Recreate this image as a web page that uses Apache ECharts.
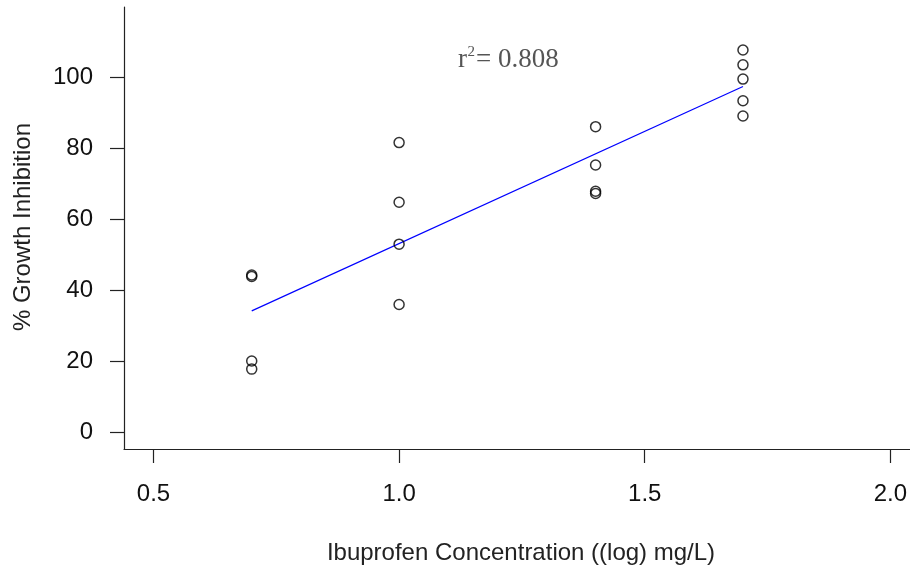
<!DOCTYPE html>
<html>
<head>
<meta charset="utf-8">
<script src="https://cdn.jsdelivr.net/npm/echarts@6/dist/echarts.min.js"></script>
<style>
  html, body { margin: 0; padding: 0; background: #fff; }
  #chart { width: 910px; height: 573px; }
</style>
</head>
<body>
<div id="chart"></div>
<script>
// ---- data ----
const concentrations = [0.7, 1.0, 1.4, 1.7];           // log mg/L
const inhibitionAt07 = [43.8, 44.2, 20.0, 17.7];
const inhibitionAt10 = [81.5, 64.7, 52.9, 35.9];
const inhibitionAt14 = [86.0, 75.2, 67.2, 67.8];
const inhibitionAt17 = [107.6, 103.4, 99.4, 93.3, 89.0];
const fitLineX = [0.7, 1.7];
const fitLineY = [34.1, 97.3];
const xTickValues = [0.5, 1.0, 1.5, 2.0];
const yTickValues = [0, 20, 40, 60, 80, 100];
const xTitle = 'Ibuprofen Concentration ((log) mg/L)';
const yTitle = '% Growth Inhibition';
const rSquaredText = '0.808';
const annotationAt = [1.12, 104.9];

// ---- build ----
const groups = [inhibitionAt07, inhibitionAt10, inhibitionAt14, inhibitionAt17];
const points = [];
groups.forEach((vals, i) => vals.forEach(v => points.push([concentrations[i], v])));
const fitLine = fitLineX.map((x, i) => [x, fitLineY[i]]);

const sansFont = '"Liberation Sans", Arial, sans-serif';
const serifFont = '"Liberation Serif", "Times New Roman", serif';
const axisColor = '#222';
const textColor = '#111';

const chart = echarts.init(document.getElementById('chart'), null, { renderer: 'canvas' });

const axisCommon = {
  type: 'value',
  splitLine: { show: false },
  axisLine: { show: true, onZero: false, lineStyle: { color: axisColor, width: 1.2 } },
  axisTick: { show: true, length: 14, lineStyle: { color: axisColor, width: 1.2 } },
};

chart.setOption({
  animation: false,
  backgroundColor: '#fff',
  grid: { left: 124, right: 0, top: 7, bottom: 124, containLabel: false, outerBoundsMode: 'none' },
  xAxis: Object.assign({}, axisCommon, {
    min: 0.44, max: 2.04,
    axisTick: Object.assign({}, axisCommon.axisTick, { customValues: xTickValues }),
    axisLabel: {
      customValues: xTickValues,
      formatter: v => v.toFixed(1),
      margin: 33, fontSize: 24, color: textColor, fontFamily: sansFont
    }
  }),
  yAxis: Object.assign({}, axisCommon, {
    min: -4.8, max: 119.7,
    axisTick: Object.assign({}, axisCommon.axisTick, { customValues: yTickValues }),
    axisLabel: {
      customValues: yTickValues,
      formatter: v => String(v),
      margin: 31, fontSize: 24, color: textColor, fontFamily: sansFont
    }
  }),
  series: [
    {
      type: 'line',
      data: fitLine,
      symbol: 'none',
      lineStyle: { color: '#0000ff', width: 1.2 },
      z: 2
    },
    {
      type: 'scatter',
      data: points,
      symbol: 'circle',
      symbolSize: 10,
      itemStyle: { color: 'rgba(0,0,0,0)', borderColor: '#000', borderWidth: 1.5 },
      z: 3
    }
  ]
});

const p = chart.convertToPixel({ gridIndex: 0 }, annotationAt);
chart.setOption({
  graphic: [
    {
      type: 'text', x: 521, y: 553,
      style: { text: xTitle, font: '24px ' + sansFont, fill: '#222', align: 'center', verticalAlign: 'middle' }
    },
    {
      type: 'text', x: 23, y: 227, rotation: Math.PI / 2,
      style: { text: yTitle, font: '24px ' + sansFont, fill: '#222', align: 'center', verticalAlign: 'middle' }
    },
    {
      type: 'group', x: p[0], y: p[1],
      children: [
        { type: 'text', x: 0, y: 0, style: { text: 'r', font: '27px ' + serifFont, fill: '#555', align: 'left', verticalAlign: 'middle' } },
        { type: 'text', x: 9.5, y: -7, style: { text: '2', font: '15px ' + serifFont, fill: '#555', align: 'left', verticalAlign: 'middle' } },
        { type: 'text', x: 18, y: 0, style: { text: '= ' + rSquaredText, font: '27px ' + serifFont, fill: '#555', align: 'left', verticalAlign: 'middle' } }
      ]
    }
  ]
});
</script>
</body>
</html>
